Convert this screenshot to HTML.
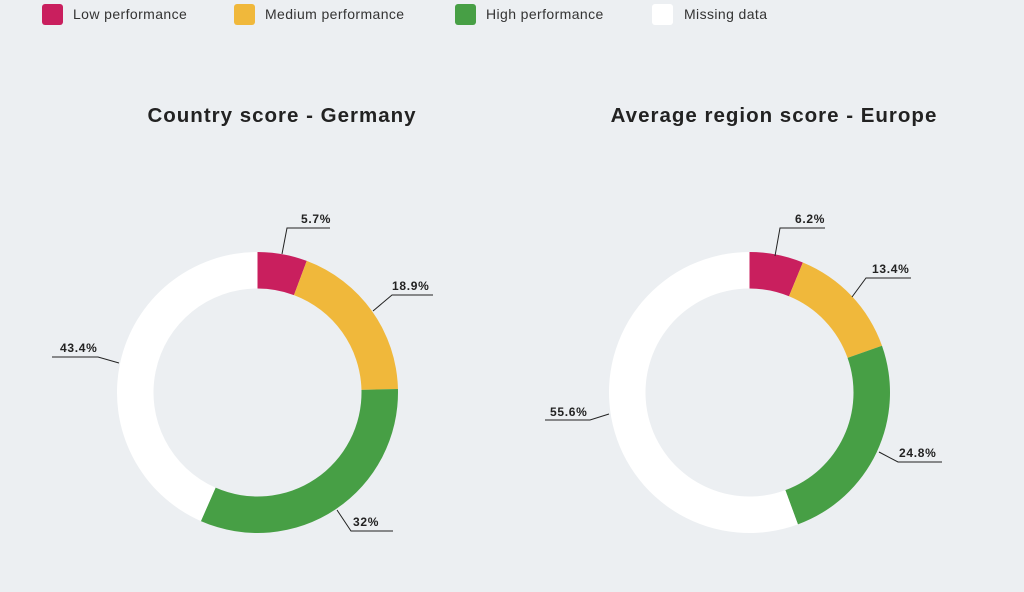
<!DOCTYPE html>
<html><head><style>
body{margin:0;width:1024px;height:587px;background:#eceff2;font-family:"Liberation Sans",sans-serif;overflow:hidden}
</style></head><body>
<svg id="s" width="1024" height="587" xmlns="http://www.w3.org/2000/svg" font-family="Liberation Sans, sans-serif">
<g font-size="14" fill="#333" letter-spacing="0.4">
<rect x="42" y="4" width="21" height="21" rx="3" fill="#c91f5e"/><text x="73" y="19">Low performance</text>
<rect x="234" y="4" width="21" height="21" rx="3" fill="#f0b83b"/><text x="265" y="19">Medium performance</text>
<rect x="455" y="4" width="21" height="21" rx="3" fill="#479f45"/><text x="486" y="19">High performance</text>
<rect x="652" y="4" width="21" height="21" rx="3" fill="#ffffff"/><text x="684" y="19">Missing data</text>
</g>
<g font-size="20.5" font-weight="bold" fill="#222" text-anchor="middle" letter-spacing="1">
<text x="282" y="122">Country score - Germany</text>
<text x="774" y="122">Average region score - Europe</text>
</g>
<g id="d"></g>
<g stroke="#222" stroke-width="1" fill="none">
<polyline points="282,254 287,228 330,228"/>
<polyline points="373,311 392,295 433,295"/>
<polyline points="337,510 351,531 393,531"/>
<polyline points="119,363 98,357 52,357"/>
<polyline points="775,256 780,228 825,228"/>
<polyline points="852,297 866,278 911,278"/>
<polyline points="879,452 898,462 942,462"/>
<polyline points="609,414 590,420 545,420"/>
</g>
<g font-size="12" font-weight="bold" fill="#222" letter-spacing="0.7">
<text x="301" y="223">5.7%</text>
<text x="392" y="290">18.9%</text>
<text x="353" y="526">32%</text>
<text x="60" y="352">43.4%</text>
<text x="795" y="223">6.2%</text>
<text x="872" y="273">13.4%</text>
<text x="899" y="457">24.8%</text>
<text x="550" y="416">55.6%</text>
</g>
</svg>
<script>
var g=document.getElementById('d');
function donut(cx,cy,vals){
 var cols=['#c91f5e','#f0b83b','#479f45','#ffffff'],R=140.5,r=104,a=0,tot=vals.reduce(function(x,y){return x+y},0);
 vals.forEach(function(v,i){
  var a0=a/tot*2*Math.PI,a1=(a+v)/tot*2*Math.PI;a+=v;
  var L=(a1-a0)>Math.PI?1:0;
  function p(rr,t){return [cx+rr*Math.sin(t),cy-rr*Math.cos(t)].join(',')}
  var d='M'+p(R,a0)+'A'+R+','+R+' 0 '+L+' 1 '+p(R,a1)+'L'+p(r,a1)+'A'+r+','+r+' 0 '+L+' 0 '+p(r,a0)+'Z';
  var e=document.createElementNS('http://www.w3.org/2000/svg','path');
  e.setAttribute('d',d);e.setAttribute('fill',cols[i]);g.appendChild(e);
 });
}
donut(257.5,392.5,[5.7,18.9,32,43.4]);
donut(749.5,392.5,[6.2,13.4,24.8,55.6]);
</script>
</body></html>
